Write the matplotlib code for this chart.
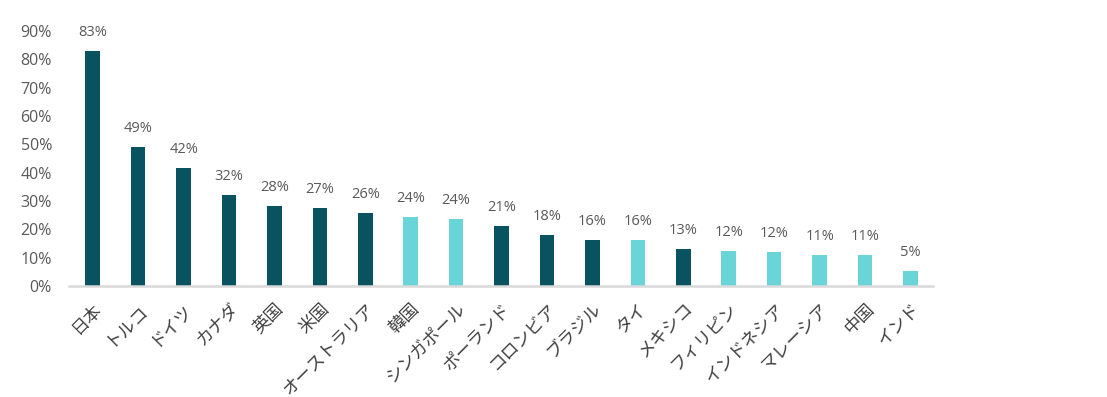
import matplotlib.pyplot as plt
import numpy as np

plt.rcParams['font.family'] = ['Open Sans', 'Noto Sans CJK JP', 'DejaVu Sans']

countries = ["日本", "トルコ", "ドイツ", "カナダ", "英国", "米国", "オーストラリア", "韓国",
             "シンガポール", "ポーランド", "コロンビア", "ブラジル", "タイ", "メキシコ",
             "フィリピン", "インドネシア", "マレーシア", "中国", "インド"]
values = [83, 49, 41.6, 32.2, 28.4, 27.4, 25.8, 24.4, 23.8, 21.2, 17.9, 16.2, 16.4, 13.1,
          12.3, 12.0, 11.0, 11.0, 5.4]
highlight = [False, False, False, False, False, False, False, True, True, False, False,
             False, True, False, True, True, True, True, True]

dark = "#08535f"
light = "#69d5d8"
colors = [light if h else dark for h in highlight]

fig = plt.figure(figsize=(11.07, 3.97), dpi=100)
ax = fig.add_axes([0.062, 0.2796, 0.781, 0.6424])

x = np.arange(len(countries))
ax.bar(x, values, width=0.32, color=colors)

for xi, v in zip(x, values):
    ax.text(xi, v + 6.5, f"{v:.0f}%", ha="center", va="center", fontsize=10.5, color="#595959")

ax.set_xlim(-0.53, 18.5)
ax.set_ylim(0, 90)
ax.set_yticks(np.arange(0, 91, 10))
ax.set_yticklabels([f"{t}%" for t in range(0, 91, 10)], fontsize=11.5, color="#595959")
ax.set_xticks(x)
ax.set_xticklabels(countries, rotation=45, ha="right", rotation_mode="anchor",
                   fontsize=12.5, color="#404040", family=["Noto Sans CJK JP"])
ax.tick_params(axis="both", length=0)
ax.tick_params(axis="y", pad=12)
ax.tick_params(axis="x", pad=10)

for side in ["top", "right", "left"]:
    ax.spines[side].set_visible(False)
ax.spines["bottom"].set_color("#d9d9d9")
ax.spines["bottom"].set_linewidth(1.8)

fig.savefig("out.png", dpi=100)
